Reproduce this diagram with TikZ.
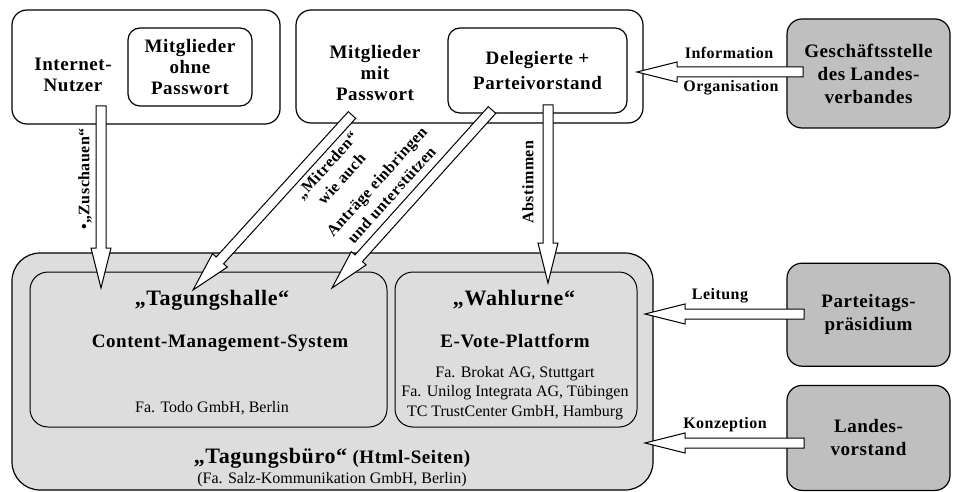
\documentclass[tikz,border=0pt]{standalone}
\usepackage{fontspec}
\setmainfont{Liberation Serif}[BoldFeatures={LetterSpace=3.0}]
\usepackage{tikz}
\usetikzlibrary{calc,positioning}
\tikzset{
    rahmen/.style={
        rectangle,
        rounded corners=15pt,
        draw=black, line width=1.2pt,
        fill=white,
        align=center,
        font=\bfseries\fontsize{19}{21}\selectfont
    },
    feld/.style={
        rectangle,
        rounded corners=18pt,
        draw=black, line width=1pt,
        fill=gray!27
    },
    amt/.style={
        rectangle,
        rounded corners=15pt,
        draw=black, line width=1.2pt,
        fill=gray!50,
        minimum width=163pt,
        align=center,
        font=\bfseries\fontsize{19}{23}\selectfont
    },
    titel/.style={align=center, font=\bfseries\fontsize{19}{21}\selectfont},
    gross/.style={font=\bfseries\fontsize{22}{26}\selectfont},
    firma/.style={align=center, font=\fontsize{16}{19.5}\selectfont},
    pfeiltext/.style={align=center, font=\bfseries\fontsize{16}{20}\selectfont},
    pfeil/.style={draw=black, fill=white, line width=1pt, line join=miter}
}

% hollow block arrow from #1 (tail) to #2 (tip)
\newcommand{\hohlpfeil}[2]{%
    \coordinate (hp) at ($(#2)!40pt!(#1)$);
    \draw[pfeil] ($(#1)!5pt!90:(#2)$) -- ($(hp)!5pt!90:(#2)$)
        -- ($(hp)!10pt!90:(#2)$) -- (#2) -- ($(hp)!10pt!-90:(#2)$)
        -- ($(hp)!5pt!-90:(#2)$) -- ($(#1)!5pt!-90:(#2)$) -- cycle;
}

\begin{document}
\begin{tikzpicture}[x=1pt, y=-1pt]
                \useasboundingbox (0,0) rectangle (953,492);

                \node[rahmen, minimum width=268pt, minimum height=114pt] (nutzer) at (146,67) {};
                \node[titel] (nutzertext) at (73,75) {Internet-\\Nutzer};
                \node[rahmen, rounded corners=12pt, minimum width=124pt, minimum height=78pt]
                    (ohnepw) at (190,67) {Mitglieder\\ohne\\Passwort};

                \node[rahmen, minimum width=347pt, minimum height=113pt] (mitpw) at (469.5,66.5) {};
                \node[titel] (mitpwtext) at (375,73) {Mitglieder\\mit\\Passwort};
                \node[rahmen, rounded corners=12pt, minimum width=179pt, minimum height=85pt,
                    font=\bfseries\fontsize{19}{25}\selectfont]
                    (delegierte) at (537.5,70.5) {Delegierte +\\Parteivorstand};

                \node[amt, minimum height=109pt] (gs) at (868.5,73.5) {Geschäftsstelle\\des Landes-\\verbandes};
                \node[amt, minimum height=103pt, below=134pt of gs] (praesidium) {Parteitags-\\präsidium};
                \node[amt, minimum height=105pt, below=18pt of praesidium] (landesvorstand) {Landes-\\vorstand};

                \node[feld, rounded corners=28pt, line width=1.2pt, minimum width=641pt, minimum height=237pt]
                    (buero) at (332.5,371.5) {};
                \node[feld, minimum width=357pt, minimum height=155pt] (halle) at (208.5,349.5) {};
                \node[feld, minimum width=242pt, minimum height=155pt] (urne) at (516,349.5) {};

                \node[gross] (halletitel) at (212,300) {„Tagungshalle“};
                \node[titel] (cms) at (220,343) {Content-Management-System};
                \node[firma] (todo) at (212,408) {Fa. Todo GmbH, Berlin};

                \node[gross] (urnetitel) at (514,300) {„Wahlurne“};
                \node[titel] (evote) at (515,341) {E-Vote-Plattform};
                \node[firma] (firmen) at (515,393) {Fa. Brokat AG, Stuttgart\\Fa. Unilog Integrata AG, Tübingen\\TC TrustCenter GmbH, Hamburg};

                \node[titel] (buerotitel) at (332,458) {{\fontsize{22}{26}\selectfont „Tagungsbüro“} (Html-Seiten)};
                \node[firma] (salz) at (332,480) {(Fa. Salz-Kommunikation GmbH, Berlin)};

                % -- Pfeile -- %

                \coordinate (zuA) at (101,106);  \coordinate (zuB) at (101,288);
                \coordinate (miA) at (352,115);  \coordinate (miB) at (193,290);
                \coordinate (anA) at (492,110);  \coordinate (anB) at (332,288);
                \coordinate (abA) at (548,105);  \coordinate (abB) at (548,283);
                \coordinate (inA) at (803,72);   \coordinate (inB) at (637,72);
                \coordinate (leA) at (804,314);  \coordinate (leB) at (645,314);
                \coordinate (koA) at (804,443);  \coordinate (koB) at (645,443);

                \hohlpfeil{zuA}{zuB}
                \hohlpfeil{miA}{miB}
                \hohlpfeil{anA}{anB}
                \hohlpfeil{abA}{abB}
                \hohlpfeil{inA}{inB}
                \hohlpfeil{leA}{leB}
                \hohlpfeil{koA}{koB}

                \node[pfeiltext, rotate=90] (zuschauen) at (85,179) {•„Zuschauen“};
                \node[pfeiltext, rotate=48] (mitreden) at (334,172) {„Mitreden“\\wie auch};
                \node[pfeiltext, rotate=48] (antraege) at (384,188) {Anträge einbringen\\und unterstützen};
                \node[pfeiltext, rotate=90] (abstimmen) at (528,182) {Abstimmen};
                \node[pfeiltext] (information) at (729,53) {Information};
                \node[pfeiltext] (organisation) at (731,88) {Organisation};
                \node[pfeiltext] (leitung) at (720,296) {Leitung};
                \node[pfeiltext] (konzeption) at (725,425) {Konzeption};
\end{tikzpicture}
\end{document}
